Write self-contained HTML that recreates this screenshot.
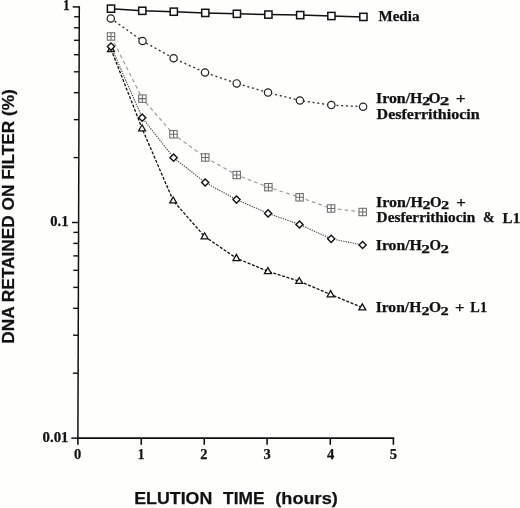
<!DOCTYPE html>
<html><head><meta charset="utf-8"><style>
html,body{margin:0;padding:0;background:#fefefd;}
body{width:520px;height:508px;overflow:hidden;position:relative;}
svg{position:absolute;left:0;top:0;filter:blur(0.3px);}
text{fill:#111;stroke:#111;stroke-width:0.25px;}
</style></head><body>
<svg width="520" height="508" viewBox="0 0 520 508">
<g stroke="#111" fill="none" stroke-linecap="butt">
<line x1="79.3" y1="6.2" x2="77.9" y2="439" stroke-width="1.5"/>
<line x1="77" y1="438.2" x2="394.2" y2="438.2" stroke-width="1.7"/>
<line x1="72.70" y1="6.90" x2="79.30" y2="6.90" stroke-width="1.5"/>
<line x1="72.00" y1="222.50" x2="78.60" y2="222.50" stroke-width="1.5"/>
<line x1="73.61" y1="157.60" x2="78.81" y2="157.60" stroke-width="1.4"/>
<line x1="73.73" y1="119.63" x2="78.93" y2="119.63" stroke-width="1.4"/>
<line x1="73.82" y1="92.70" x2="79.02" y2="92.70" stroke-width="1.4"/>
<line x1="73.89" y1="71.80" x2="79.09" y2="71.80" stroke-width="1.4"/>
<line x1="73.94" y1="54.73" x2="79.14" y2="54.73" stroke-width="1.4"/>
<line x1="73.99" y1="40.30" x2="79.19" y2="40.30" stroke-width="1.4"/>
<line x1="74.03" y1="27.79" x2="79.23" y2="27.79" stroke-width="1.4"/>
<line x1="74.07" y1="16.77" x2="79.27" y2="16.77" stroke-width="1.4"/>
<line x1="71.30" y1="438.10" x2="77.90" y2="438.10" stroke-width="1.5"/>
<line x1="72.91" y1="373.20" x2="78.11" y2="373.20" stroke-width="1.4"/>
<line x1="73.03" y1="335.23" x2="78.23" y2="335.23" stroke-width="1.4"/>
<line x1="73.12" y1="308.30" x2="78.32" y2="308.30" stroke-width="1.4"/>
<line x1="73.19" y1="287.40" x2="78.39" y2="287.40" stroke-width="1.4"/>
<line x1="73.24" y1="270.33" x2="78.44" y2="270.33" stroke-width="1.4"/>
<line x1="73.29" y1="255.90" x2="78.49" y2="255.90" stroke-width="1.4"/>
<line x1="73.33" y1="243.39" x2="78.53" y2="243.39" stroke-width="1.4"/>
<line x1="73.37" y1="232.37" x2="78.57" y2="232.37" stroke-width="1.4"/>
<line x1="77.9" y1="438" x2="77.9" y2="444.8" stroke-width="1.6"/>
<line x1="141.25" y1="438" x2="141.25" y2="444.8" stroke-width="1.6"/>
<line x1="204.25" y1="438" x2="204.25" y2="444.8" stroke-width="1.6"/>
<line x1="267.1" y1="438" x2="267.1" y2="444.8" stroke-width="1.6"/>
<line x1="330.3" y1="438" x2="330.3" y2="444.8" stroke-width="1.6"/>
<line x1="393.4" y1="438" x2="393.4" y2="444.8" stroke-width="1.6"/>
</g>
<polyline points="111.0,8.7 142.3,10.8 173.8,11.7 205.3,12.9 236.9,13.8 268.4,14.6 300.2,15.1 331.4,16.0 363.4,16.9" fill="none" stroke="#111" stroke-width="1.5"/>
<polyline points="110.8,18.4 142.5,41.0 173.6,58.3 205.0,72.5 236.7,83.4 268.0,92.6 299.9,100.5 331.3,105.1 363.1,106.7" fill="none" stroke="#333" stroke-width="1.4" stroke-dasharray="2 2.8"/>
<polyline points="111.0,36.5 142.4,98.6 173.5,134.3 205.3,157.5 236.7,175.0 268.4,187.2 299.6,197.3 331.1,208.5 362.7,212.0" fill="none" stroke="#a0a0a0" stroke-width="1.25" stroke-dasharray="3.8 3"/>
<polyline points="111.0,46.6 142.2,117.7 173.6,157.7 205.2,182.5 236.5,199.6 268.1,213.4 299.5,224.5 331.2,238.8 362.6,245.0" fill="none" stroke="#333" stroke-width="1.1" stroke-dasharray="1.2 1.2"/>
<polyline points="111.0,49.1 142.1,128.5 173.2,200.7 204.6,236.5 236.4,258.2 267.9,271.3 299.2,281.2 330.6,294.4 362.3,307.6" fill="none" stroke="#111" stroke-width="1.3" stroke-dasharray="3 1.6"/>
<rect x="107.40" y="5.05" width="7.2" height="7.2" fill="#fff" stroke="#111" stroke-width="1.5"/>
<rect x="138.70" y="7.20" width="7.2" height="7.2" fill="#fff" stroke="#111" stroke-width="1.5"/>
<rect x="170.20" y="8.10" width="7.2" height="7.2" fill="#fff" stroke="#111" stroke-width="1.5"/>
<rect x="201.70" y="9.30" width="7.2" height="7.2" fill="#fff" stroke="#111" stroke-width="1.5"/>
<rect x="233.30" y="10.20" width="7.2" height="7.2" fill="#fff" stroke="#111" stroke-width="1.5"/>
<rect x="264.80" y="11.00" width="7.2" height="7.2" fill="#fff" stroke="#111" stroke-width="1.5"/>
<rect x="296.60" y="11.50" width="7.2" height="7.2" fill="#fff" stroke="#111" stroke-width="1.5"/>
<rect x="327.80" y="12.40" width="7.2" height="7.2" fill="#fff" stroke="#111" stroke-width="1.5"/>
<rect x="359.80" y="13.30" width="7.2" height="7.2" fill="#fff" stroke="#111" stroke-width="1.5"/>
<circle cx="110.8" cy="18.45" r="3.65" fill="#fff" stroke="#222" stroke-width="1.2"/>
<circle cx="142.5" cy="41" r="3.65" fill="#fff" stroke="#222" stroke-width="1.2"/>
<circle cx="173.6" cy="58.3" r="3.65" fill="#fff" stroke="#222" stroke-width="1.2"/>
<circle cx="205" cy="72.5" r="3.65" fill="#fff" stroke="#222" stroke-width="1.2"/>
<circle cx="236.7" cy="83.4" r="3.65" fill="#fff" stroke="#222" stroke-width="1.2"/>
<circle cx="268" cy="92.6" r="3.65" fill="#fff" stroke="#222" stroke-width="1.2"/>
<circle cx="299.9" cy="100.5" r="3.65" fill="#fff" stroke="#222" stroke-width="1.2"/>
<circle cx="331.3" cy="105.1" r="3.65" fill="#fff" stroke="#222" stroke-width="1.2"/>
<circle cx="363.1" cy="106.7" r="3.65" fill="#fff" stroke="#222" stroke-width="1.2"/>
<g stroke="#6a6a6a" stroke-width="1.05" fill="#fff"><rect x="107.30" y="32.80" width="7.4" height="7.4"/><path d="M111.00 32.80V40.20M107.30 36.50H114.70"/></g>
<g stroke="#6a6a6a" stroke-width="1.05" fill="#fff"><rect x="138.70" y="94.90" width="7.4" height="7.4"/><path d="M142.40 94.90V102.30M138.70 98.60H146.10"/></g>
<g stroke="#6a6a6a" stroke-width="1.05" fill="#fff"><rect x="169.80" y="130.60" width="7.4" height="7.4"/><path d="M173.50 130.60V138.00M169.80 134.30H177.20"/></g>
<g stroke="#6a6a6a" stroke-width="1.05" fill="#fff"><rect x="201.60" y="153.80" width="7.4" height="7.4"/><path d="M205.30 153.80V161.20M201.60 157.50H209.00"/></g>
<g stroke="#6a6a6a" stroke-width="1.05" fill="#fff"><rect x="233.00" y="171.30" width="7.4" height="7.4"/><path d="M236.70 171.30V178.70M233.00 175.00H240.40"/></g>
<g stroke="#6a6a6a" stroke-width="1.05" fill="#fff"><rect x="264.70" y="183.50" width="7.4" height="7.4"/><path d="M268.40 183.50V190.90M264.70 187.20H272.10"/></g>
<g stroke="#6a6a6a" stroke-width="1.05" fill="#fff"><rect x="295.90" y="193.60" width="7.4" height="7.4"/><path d="M299.60 193.60V201.00M295.90 197.30H303.30"/></g>
<g stroke="#6a6a6a" stroke-width="1.05" fill="#fff"><rect x="327.40" y="204.80" width="7.4" height="7.4"/><path d="M331.10 204.80V212.20M327.40 208.50H334.80"/></g>
<g stroke="#6a6a6a" stroke-width="1.05" fill="#fff"><rect x="359.00" y="208.30" width="7.4" height="7.4"/><path d="M362.70 208.30V215.70M359.00 212.00H366.40"/></g>
<path d="M111.00 45.40L114.45 51.50L107.55 51.50Z" fill="#fff" stroke="#111" stroke-width="1.3" stroke-linejoin="miter"/>
<path d="M142.10 124.70L145.55 130.80L138.65 130.80Z" fill="#fff" stroke="#111" stroke-width="1.3" stroke-linejoin="miter"/>
<path d="M173.20 197.00L176.65 202.90L169.75 202.90Z" fill="#fff" stroke="#111" stroke-width="1.3" stroke-linejoin="miter"/>
<path d="M204.60 232.80L208.05 238.80L201.15 238.80Z" fill="#fff" stroke="#111" stroke-width="1.3" stroke-linejoin="miter"/>
<path d="M236.40 254.40L239.85 260.70L232.95 260.70Z" fill="#fff" stroke="#111" stroke-width="1.3" stroke-linejoin="miter"/>
<path d="M267.90 267.60L271.35 273.60L264.45 273.60Z" fill="#fff" stroke="#111" stroke-width="1.3" stroke-linejoin="miter"/>
<path d="M299.20 277.70L302.65 283.30L295.75 283.30Z" fill="#fff" stroke="#111" stroke-width="1.3" stroke-linejoin="miter"/>
<path d="M330.60 290.60L334.05 296.80L327.15 296.80Z" fill="#fff" stroke="#111" stroke-width="1.3" stroke-linejoin="miter"/>
<path d="M362.30 303.90L365.75 309.90L358.85 309.90Z" fill="#fff" stroke="#111" stroke-width="1.3" stroke-linejoin="miter"/>
<path d="M111.00 43.00L114.60 46.60L111.00 50.20L107.40 46.60Z" fill="#fff" stroke="#111" stroke-width="1.4"/>
<path d="M142.20 114.10L145.80 117.70L142.20 121.30L138.60 117.70Z" fill="#fff" stroke="#111" stroke-width="1.4"/>
<path d="M173.60 154.10L177.20 157.70L173.60 161.30L170.00 157.70Z" fill="#fff" stroke="#111" stroke-width="1.4"/>
<path d="M205.20 178.90L208.80 182.50L205.20 186.10L201.60 182.50Z" fill="#fff" stroke="#111" stroke-width="1.4"/>
<path d="M236.50 196.00L240.10 199.60L236.50 203.20L232.90 199.60Z" fill="#fff" stroke="#111" stroke-width="1.4"/>
<path d="M268.10 209.80L271.70 213.40L268.10 217.00L264.50 213.40Z" fill="#fff" stroke="#111" stroke-width="1.4"/>
<path d="M299.50 220.90L303.10 224.50L299.50 228.10L295.90 224.50Z" fill="#fff" stroke="#111" stroke-width="1.4"/>
<path d="M331.20 235.20L334.80 238.80L331.20 242.40L327.60 238.80Z" fill="#fff" stroke="#111" stroke-width="1.4"/>
<path d="M362.60 241.40L366.20 245.00L362.60 248.60L359.00 245.00Z" fill="#fff" stroke="#111" stroke-width="1.4"/>
<text x="378.54" y="20.80" font-family="Liberation Serif" font-weight="bold" font-size="14" textLength="40.88" lengthAdjust="spacingAndGlyphs">Media</text>
<text x="375.96" y="103.10" font-family="Liberation Serif" font-weight="bold" font-size="14" textLength="46.51" lengthAdjust="spacingAndGlyphs">Iron/H</text>
<text x="422.33" y="105.30" font-family="Liberation Serif" font-weight="bold" font-size="13" textLength="7.95" lengthAdjust="spacingAndGlyphs">2</text>
<text x="428.54" y="103.10" font-family="Liberation Serif" font-weight="bold" font-size="14" textLength="12.12" lengthAdjust="spacingAndGlyphs">O</text>
<text x="439.79" y="105.30" font-family="Liberation Serif" font-weight="bold" font-size="13" textLength="9.64" lengthAdjust="spacingAndGlyphs">2</text>
<text x="455.88" y="103.10" font-family="Liberation Serif" font-weight="bold" font-size="14" textLength="9.93" lengthAdjust="spacingAndGlyphs">+</text>
<text x="376.61" y="118.60" font-family="Liberation Serif" font-weight="bold" font-size="14" textLength="103.03" lengthAdjust="spacingAndGlyphs">Desferrithiocin</text>
<text x="376.06" y="206.50" font-family="Liberation Serif" font-weight="bold" font-size="14" textLength="46.81" lengthAdjust="spacingAndGlyphs">Iron/H</text>
<text x="422.42" y="209.00" font-family="Liberation Serif" font-weight="bold" font-size="13" textLength="8.07" lengthAdjust="spacingAndGlyphs">2</text>
<text x="430.07" y="206.50" font-family="Liberation Serif" font-weight="bold" font-size="14" textLength="11.55" lengthAdjust="spacingAndGlyphs">O</text>
<text x="441.11" y="209.00" font-family="Liberation Serif" font-weight="bold" font-size="13" textLength="8.19" lengthAdjust="spacingAndGlyphs">2</text>
<text x="456.20" y="206.50" font-family="Liberation Serif" font-weight="bold" font-size="14" textLength="9.68" lengthAdjust="spacingAndGlyphs">+</text>
<text x="376.62" y="222.40" font-family="Liberation Serif" font-weight="bold" font-size="14" textLength="98.71" lengthAdjust="spacingAndGlyphs">Desferrithiocin</text>
<text x="483.09" y="222.40" font-family="Liberation Serif" font-weight="bold" font-size="14" textLength="11.59" lengthAdjust="spacingAndGlyphs">&amp;</text>
<text x="502.64" y="222.60" font-family="Liberation Serif" font-weight="bold" font-size="14" textLength="17.64" lengthAdjust="spacingAndGlyphs">L1</text>
<text x="375.76" y="250.40" font-family="Liberation Serif" font-weight="bold" font-size="14" textLength="46.10" lengthAdjust="spacingAndGlyphs">Iron/H</text>
<text x="421.37" y="252.80" font-family="Liberation Serif" font-weight="bold" font-size="13" textLength="8.67" lengthAdjust="spacingAndGlyphs">2</text>
<text x="429.57" y="250.40" font-family="Liberation Serif" font-weight="bold" font-size="14" textLength="11.55" lengthAdjust="spacingAndGlyphs">O</text>
<text x="440.59" y="252.80" font-family="Liberation Serif" font-weight="bold" font-size="13" textLength="8.43" lengthAdjust="spacingAndGlyphs">2</text>
<text x="375.67" y="312.10" font-family="Liberation Serif" font-weight="bold" font-size="14" textLength="45.69" lengthAdjust="spacingAndGlyphs">Iron/H</text>
<text x="421.52" y="314.70" font-family="Liberation Serif" font-weight="bold" font-size="13" textLength="8.07" lengthAdjust="spacingAndGlyphs">2</text>
<text x="429.04" y="312.10" font-family="Liberation Serif" font-weight="bold" font-size="14" textLength="12.12" lengthAdjust="spacingAndGlyphs">O</text>
<text x="440.61" y="314.70" font-family="Liberation Serif" font-weight="bold" font-size="13" textLength="8.19" lengthAdjust="spacingAndGlyphs">2</text>
<text x="455.02" y="312.10" font-family="Liberation Serif" font-weight="bold" font-size="14" textLength="9.44" lengthAdjust="spacingAndGlyphs">+</text>
<text x="470.36" y="312.10" font-family="Liberation Serif" font-weight="bold" font-size="14" textLength="16.69" lengthAdjust="spacingAndGlyphs">L1</text>
<text x="62.98" y="10.40" font-family="Liberation Serif" font-weight="bold" font-size="14.5" textLength="6.67" lengthAdjust="spacingAndGlyphs">1</text>
<text x="50.25" y="226.20" font-family="Liberation Serif" font-weight="bold" font-size="14.5" textLength="18.21" lengthAdjust="spacingAndGlyphs">0.1</text>
<text x="42.54" y="441.50" font-family="Liberation Serif" font-weight="bold" font-size="14.5" textLength="25.93" lengthAdjust="spacingAndGlyphs">0.01</text>
<text x="74.03" y="458.80" font-family="Liberation Serif" font-weight="bold" font-size="14.5" textLength="7.25" lengthAdjust="spacingAndGlyphs">0</text>
<text x="137.83" y="458.80" font-family="Liberation Serif" font-weight="bold" font-size="14.5" textLength="6.67" lengthAdjust="spacingAndGlyphs">1</text>
<text x="200.23" y="458.80" font-family="Liberation Serif" font-weight="bold" font-size="14.5" textLength="7.25" lengthAdjust="spacingAndGlyphs">2</text>
<text x="263.45" y="458.80" font-family="Liberation Serif" font-weight="bold" font-size="14.5" textLength="7.25" lengthAdjust="spacingAndGlyphs">3</text>
<text x="326.96" y="458.80" font-family="Liberation Serif" font-weight="bold" font-size="14.5" textLength="7.25" lengthAdjust="spacingAndGlyphs">4</text>
<text x="389.80" y="458.80" font-family="Liberation Serif" font-weight="bold" font-size="14.5" textLength="7.25" lengthAdjust="spacingAndGlyphs">5</text>
<text x="134.21" y="503.60" font-family="Liberation Sans" font-weight="bold" font-size="17.3" textLength="78.08" lengthAdjust="spacingAndGlyphs">ELUTION</text>
<text x="223.11" y="503.60" font-family="Liberation Sans" font-weight="bold" font-size="17.3" textLength="41.46" lengthAdjust="spacingAndGlyphs">TIME</text>
<text x="275.29" y="503.60" font-family="Liberation Sans" font-weight="bold" font-size="17.3" textLength="62.51" lengthAdjust="spacingAndGlyphs">(hours)</text>
<g transform="translate(14.2,342.5) rotate(-90)"><text x="-1.16" y="0.00" font-family="Liberation Sans" font-weight="bold" font-size="17.25" textLength="254.52" lengthAdjust="spacingAndGlyphs">DNA RETAINED ON FILTER (%)</text></g>
</svg>
</body></html>
